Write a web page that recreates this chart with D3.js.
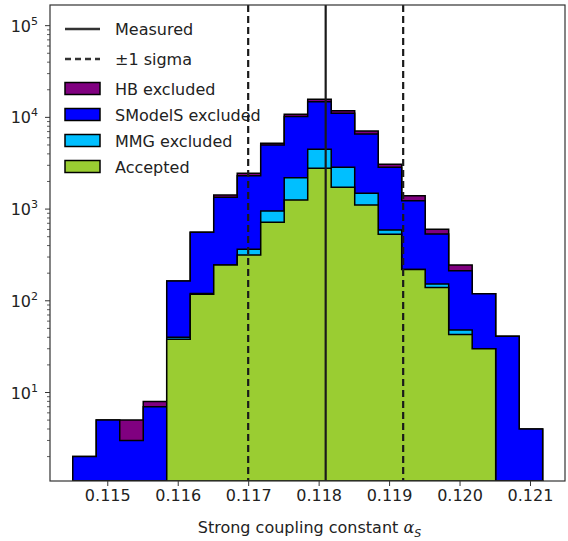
<!DOCTYPE html>
<html><head><meta charset="utf-8">
<script src="https://cdn.jsdelivr.net/npm/d3@7"></script>
<style>body{margin:0;background:#fff;} svg{display:block;font-family:"DejaVu Sans",sans-serif;}</style>
</head><body><svg id="c" width="568" height="541"></svg>
<script>
// Bin edges (21 edges -> 20 bins)
const binEdges = [0.1145100,0.1148435,0.1151770,0.1155105,0.1158440,0.1161775,0.1165110,0.1168445,0.1171780,0.1175115,0.1178450,0.1181785,0.1185120,0.1188455,0.1191790,0.1195125,0.1198460,0.1201795,0.1205130,0.1208465,0.1211800];
// Counts per bin for each category (stacked bottom -> top)
const accepted = [0,0,0,0,38,118,245,316,718,1256,2786,1730,1109,531,220,140,43,30,0,0];
const mmgExcluded = [0,0,0,0,2,2,0,49,235,942,1700,1128,378,60,0,12,5,0,0,0];
const smodelsExcluded = [2,5,3,7,124,438,1101,1947,4047,7992,10344,8232,5103,2267,1016,383,165,89,41,4];
const hbExcluded = [0,0,2,1,0,0,80,143,210,630,910,750,520,220,163,68,32,0,0,0];
const measured = 0.1181;
const sigma = 0.0011;
const xTicks = [0.115,0.116,0.117,0.118,0.119,0.120,0.121];
const xTickLabels = ["0.115","0.116","0.117","0.118","0.119","0.120","0.121"];
const yTicks = [10,100,1000,10000,100000];
const yTickExp = ["1","2","3","4","5"];
const seriesNames = ["Accepted","MMG excluded","SModelS excluded","HB excluded"];
const seriesColors = ["#9acd32","#00bfff","#0000ff","#800080"];

const svg = d3.select("#c");
const L=50,R=565,T=5,B=481;
const x = d3.scaleLinear().domain([0.114187,0.121497]).range([L,R]);
const y = d3.scaleLog().domain([1.084,168000]).range([B,T]);

const layers=[accepted,mmgExcluded,smodelsExcluded,hbExcluded];
const cum=[]; let run=accepted.map(()=>0);
layers.forEach(l=>{run=run.map((v,i)=>v+l[i]);cum.push(run.slice());});

svg.append("defs").append("clipPath").attr("id","pc").append("rect").attr("x",L).attr("y",T).attr("width",R-L).attr("height",B-T);
const g = svg.append("g").attr("clip-path","url(#pc)");
function stepPath(vals){
  const pts=[[x(binEdges[0]),B]];
  vals.forEach((v,i)=>{const yy=v>0?y(v):B+2;pts.push([x(binEdges[i]),yy]);pts.push([x(binEdges[i+1]),yy]);});
  pts.push([x(binEdges[binEdges.length-1]),B]);
  return d3.line()(pts)+"Z";
}
for(let k=3;k>=0;k--){
  g.append("path").attr("d",stepPath(cum[k])).attr("fill",seriesColors[k]).attr("stroke","#000").attr("stroke-width",1.5).attr("stroke-linejoin","miter");
}
// vertical lines
g.append("line").attr("x1",x(measured)).attr("x2",x(measured)).attr("y1",T).attr("y2",B).attr("stroke","#1a1a1a").attr("stroke-width",2.2);
[measured-sigma,measured+sigma].forEach(v=>{
  g.append("line").attr("x1",x(v)).attr("x2",x(v)).attr("y1",T).attr("y2",B).attr("stroke","#1a1a1a").attr("stroke-width",2.2).attr("stroke-dasharray","7,4");
});
// frame
svg.append("rect").attr("x",L).attr("y",T).attr("width",R-L).attr("height",B-T).attr("fill","none").attr("stroke","#333").attr("stroke-width",1.2);

// x axis
const xa = svg.append("g").attr("transform",`translate(0,${B})`).call(d3.axisBottom(x).tickValues(xTicks).tickFormat((d,i)=>xTickLabels[i]).tickSize(5).tickPadding(4));
xa.select(".domain").remove();
xa.selectAll("text").attr("font-size",16).attr("fill","#222").attr("font-family","DejaVu Sans");
xa.selectAll("line").attr("stroke","#333");

// y axis
const minor=[];
for(let e=0;e<=5;e++){for(let m=2;m<=9;m++){const v=m*Math.pow(10,e);if(v>=1.084&&v<=168000)minor.push(v);}}
const ya = svg.append("g").attr("transform",`translate(${L},0)`);
ya.selectAll("line.minor").data(minor).join("line").attr("class","minor").attr("x1",-3).attr("x2",0).attr("y1",d=>y(d)).attr("y2",d=>y(d)).attr("stroke","#333").attr("stroke-width",0.8);
ya.selectAll("line.major").data(yTicks).join("line").attr("class","major").attr("x1",-5).attr("x2",0).attr("y1",d=>y(d)).attr("y2",d=>y(d)).attr("stroke","#333").attr("stroke-width",1);
const yl = ya.selectAll("text.yl").data(yTicks).join("text").attr("class","yl").attr("x",-12).attr("y",d=>y(d)+6).attr("text-anchor","end").attr("font-size",16).attr("fill","#222");
yl.append("tspan").text("10");
yl.append("tspan").attr("dy",-7).attr("font-size",11).text((d,i)=>yTickExp[i]);

// x label
const xl = svg.append("text").attr("x",(L+R)/2+2).attr("y",533).attr("text-anchor","middle").attr("font-size",16).attr("fill","#222");
xl.append("tspan").text("Strong coupling constant ");
xl.append("tspan").attr("font-style","italic").attr("font-family","DejaVu Serif").text("α");
xl.append("tspan").attr("font-style","italic").attr("font-size",11).attr("dy",4).text("S");

// legend
const lg = svg.append("g");
const lineRows=[{label:"Measured",dash:null,y:29},{label:"±1 sigma",dash:"6,4",y:59}];
lineRows.forEach(r=>{
  lg.append("line").attr("x1",65).attr("x2",100).attr("y1",r.y).attr("y2",r.y).attr("stroke","#333").attr("stroke-width",2.4).attr("stroke-dasharray",r.dash);
  lg.append("text").attr("x",115).attr("y",r.y+6).attr("font-size",16).attr("fill","#222").text(r.label);
});
[3,2,1,0].forEach((k,j)=>{
  const cy=88.5+j*26;
  lg.append("rect").attr("x",65).attr("y",cy-6).attr("width",35).attr("height",12).attr("fill",seriesColors[k]).attr("stroke","#000").attr("stroke-width",1.5);
  lg.append("text").attr("x",115).attr("y",cy+6).attr("font-size",16).attr("fill","#222").text(seriesNames[k]);
});
</script></body></html>
